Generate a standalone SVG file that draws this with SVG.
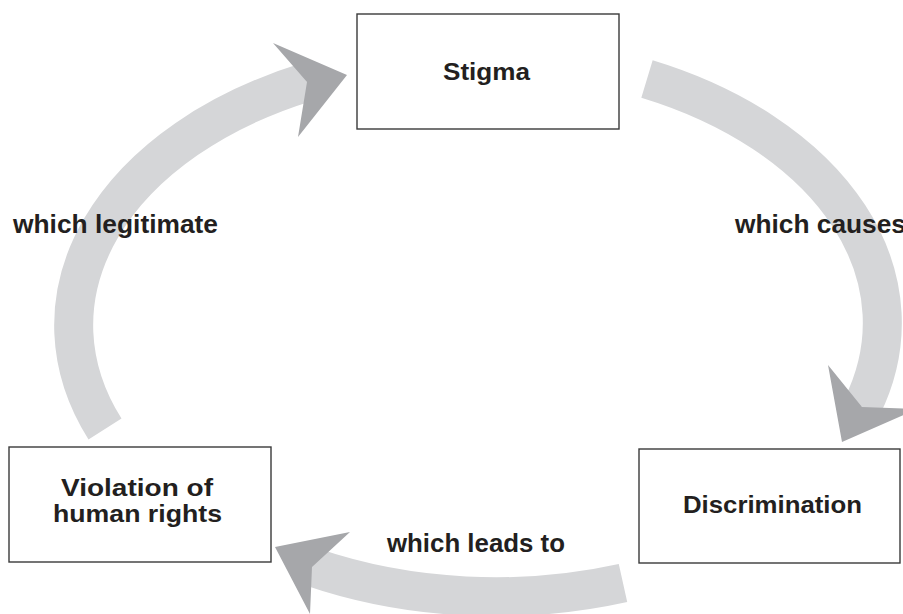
<svg xmlns="http://www.w3.org/2000/svg" width="903" height="614" viewBox="0 0 903 614">
<style>
.band{fill:none;stroke:#d5d6d8;stroke-width:39;stroke-linecap:butt}
.head{fill:#a6a7aa;stroke:none}
.box{fill:#ffffff;stroke:#3a3a3a;stroke-width:1.4}
.lbl{font-family:"Liberation Sans",Arial,Helvetica,sans-serif;font-weight:bold;font-size:25px;fill:#231f20}
.nt{font-family:"Liberation Sans",Arial,Helvetica,sans-serif;font-weight:bold;font-size:24px;fill:#231f20}
</style>
<rect width="903" height="614" fill="#ffffff"/>
<g id="connectors">
  <g id="edge-stigma-discrimination">
    <path class="band" d="M647,79 A402,268 0 0 1 862,407"/>
    <polygon class="head" points="828,365 862,407 917,409 842,442"/>
    <text class="lbl" x="735" y="233" textLength="171" lengthAdjust="spacingAndGlyphs">which causes</text>
  </g>
  <g id="edge-discrimination-violation">
    <path class="band" d="M623,583 A402,268 0 0 1 312,567"/>
    <polygon class="head" points="350,532 312,567 310,614 275,547"/>
    <text class="lbl" x="387" y="552" textLength="178" lengthAdjust="spacingAndGlyphs">which leads to</text>
  </g>
  <g id="edge-violation-stigma">
    <path class="band" d="M105,429 A402,268 0 0 1 307,82"/>
    <polygon class="head" points="273,43 347,75 298,137 307,82"/>
    <text class="lbl" x="13" y="233" textLength="205" lengthAdjust="spacingAndGlyphs">which legitimate</text>
  </g>
</g>
<g id="node-stigma">
  <rect class="box" x="357" y="14" width="262" height="115"/>
  <text class="nt" x="443" y="80" textLength="87" lengthAdjust="spacingAndGlyphs">Stigma</text>
</g>
<g id="node-discrimination">
  <rect class="box" x="639" y="449" width="261" height="114"/>
  <text class="nt" x="683" y="513" textLength="179" lengthAdjust="spacingAndGlyphs">Discrimination</text>
</g>
<g id="node-violation">
  <rect class="box" x="9" y="447" width="262" height="115"/>
  <text class="nt" x="61" y="496" textLength="152" lengthAdjust="spacingAndGlyphs" font-size="22">Violation of</text>
  <text class="nt" x="53" y="522" textLength="169" lengthAdjust="spacingAndGlyphs" font-size="22">human rights</text>
</g>
</svg>
